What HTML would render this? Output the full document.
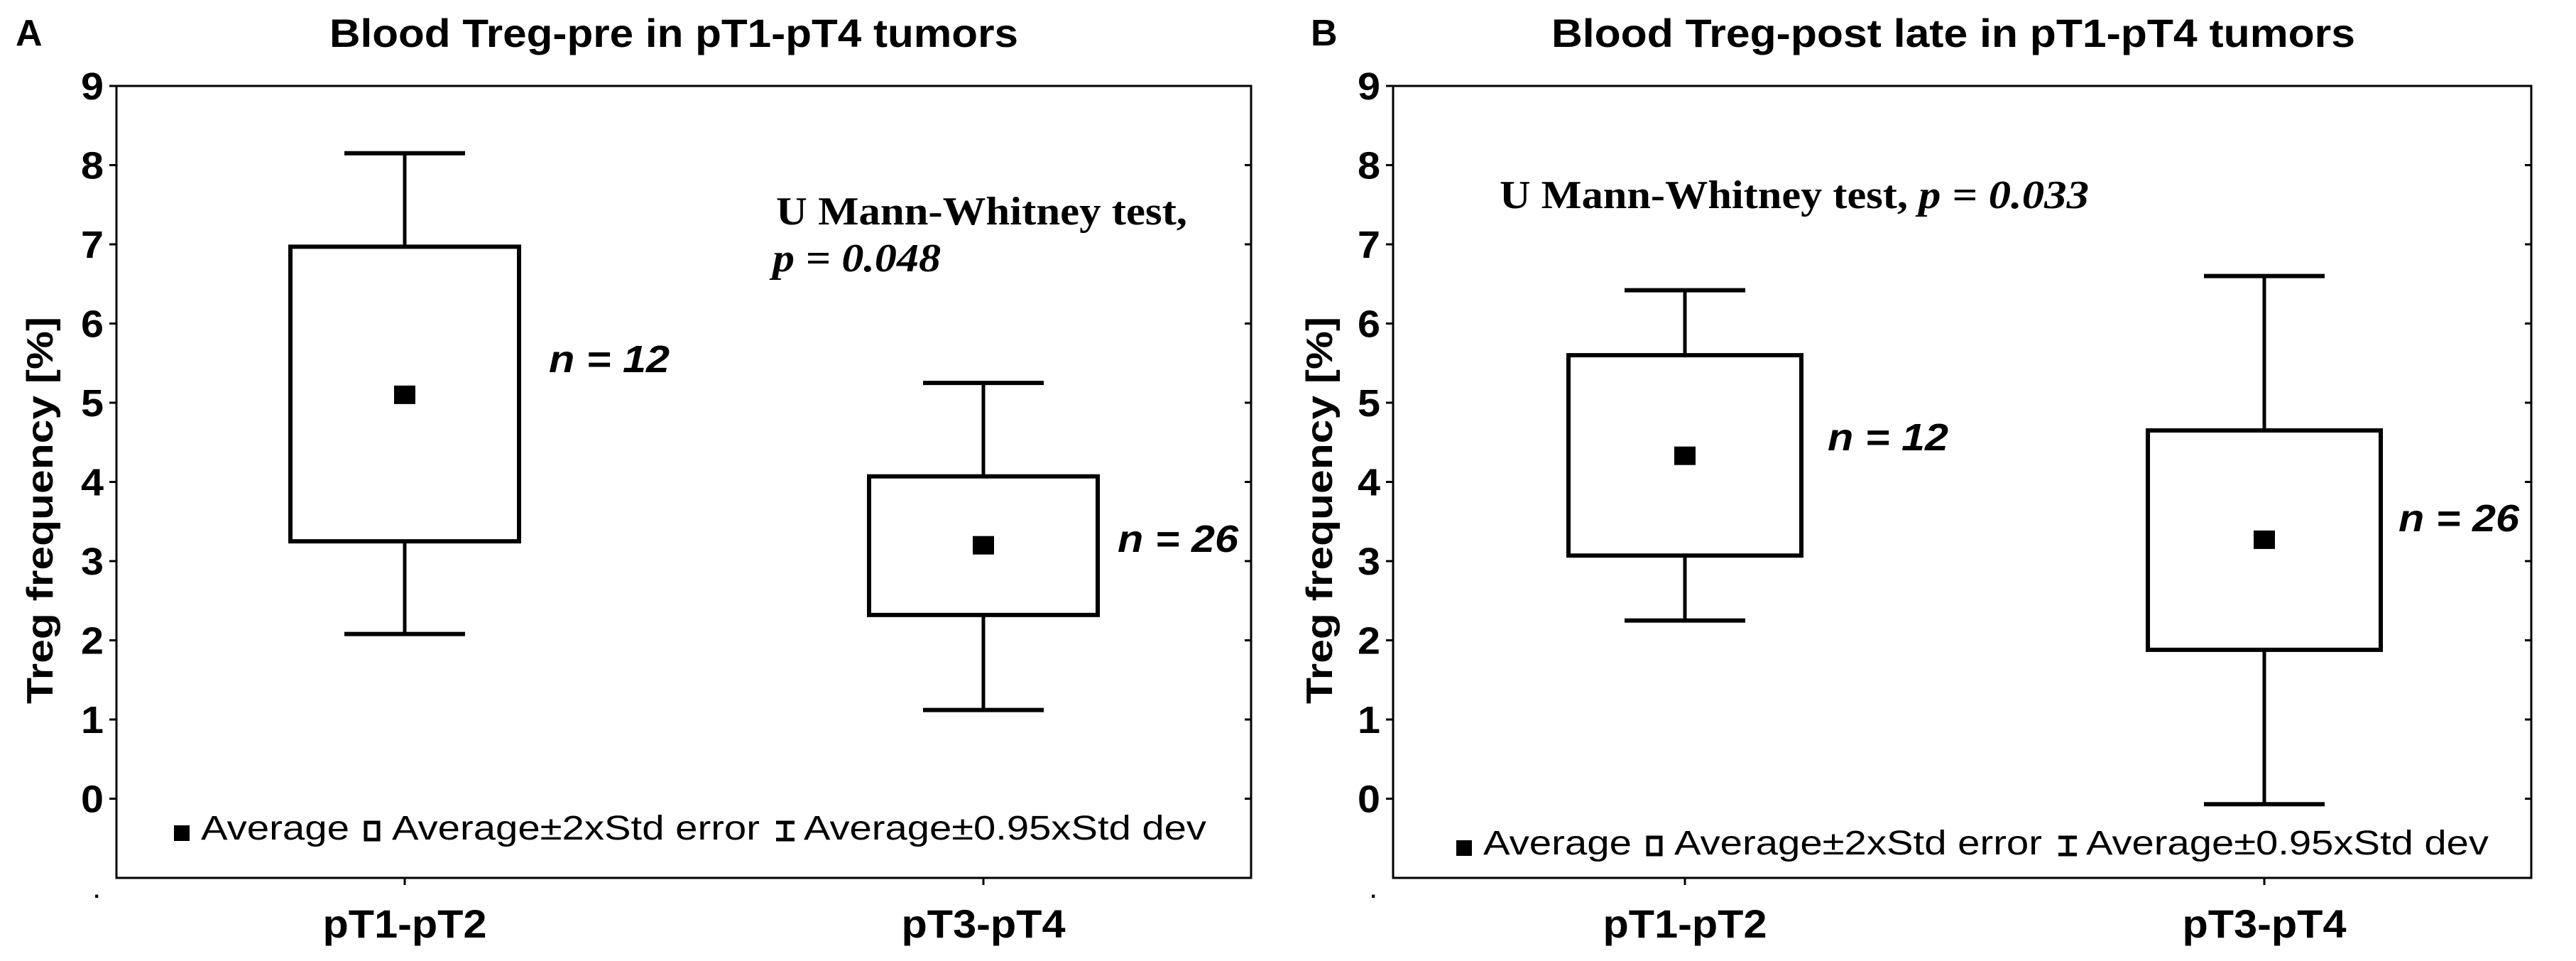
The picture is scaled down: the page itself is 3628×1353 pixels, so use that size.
<!DOCTYPE html>
<html><head><meta charset="utf-8"><style>html,body{margin:0;padding:0;background:#fff}svg{display:block}</style></head>
<body>
<svg id="fig" width="3628" height="1353" viewBox="0 0 3628 1353" xmlns="http://www.w3.org/2000/svg"></svg>
<script>
const categories = ["pT1-pT2", "pT3-pT4"];
const yTicks = [0,1,2,3,4,5,6,7,8,9];
const meanA = [5.1, 3.2];
const boxLowA = [3.25, 2.32];
const boxHighA = [6.97, 4.07];
const whiskLowA = [2.08, 1.12];
const whiskHighA = [8.15, 5.25];
const meanB = [4.33, 3.27];
const boxLowB = [3.07, 1.88];
const boxHighB = [5.6, 4.65];
const whiskLowB = [2.25, -0.07];
const whiskHighB = [6.42, 6.6];
const nLabels = ["n = 12", "n = 26"];

const NS = "http://www.w3.org/2000/svg";
const svg = document.getElementById("fig");
function mk(tag, attrs, parent, text) {
  const e = document.createElementNS(NS, tag);
  for (const k in attrs) e.setAttribute(k, attrs[k]);
  if (text !== undefined) e.textContent = text;
  (parent || svg).appendChild(e);
  return e;
}
const SANS = "'Liberation Sans',sans-serif";
const SERIF = "'Liberation Serif',serif";

function panel(cfg) {
  const g = mk("g", {});
  
  
  const L = cfg.left, R = cfg.right, T = 121, B = 1236;
  const yMin = -1, yMax = 9;
  const y = v => B - (v - yMin) / (yMax - yMin) * (B - T);
  const x = i => cfg.cx[i];
  const lt = mk("text", {x: cfg.letterX, y: 64, "font-family": SANS, "font-weight": "bold", "font-size": 52}, g, cfg.letter);
  
  
  const tt = mk("text", {x: cfg.titleX, y: 66, "text-anchor": "middle", "font-family": SANS, "font-weight": "bold", "font-size": 56, textLength: cfg.titleW, lengthAdjust: "spacingAndGlyphs"}, g, cfg.title);
  
  
  const fr = mk("rect", {x: L, y: T, width: R - L, height: B - T, fill: "none", stroke: "#000", "stroke-width": 3}, g);
  
  
  yTicks.forEach(v => {
    const yy = y(v);
    const tk = mk("line", {x1: L - 10, x2: L, y1: yy, y2: yy, stroke: "#000", "stroke-width": 3}, g);
    
    
    mk("line", {x1: R - 9, x2: R, y1: yy, y2: yy, stroke: "#000", "stroke-width": 3}, g);
    const lb = mk("text", {x: L - 18, y: yy + 19, "text-anchor": "end", "font-family": SANS, "font-weight": "bold", "font-size": 54, textLength: 32, lengthAdjust: "spacingAndGlyphs"}, g, String(v));
    
    
  });
  mk("text", {x: L - 32, y: B + 28, "font-family": SANS, "font-size": 30, "font-weight": "bold"}, g, ".");
  const yt = mk("text", {x: 0, y: 0, transform: `translate(${cfg.yTitleX},${(T + B) / 2 + 40}) rotate(-90)`, "text-anchor": "middle", "font-family": SANS, "font-weight": "bold", "font-size": 52, textLength: 545, lengthAdjust: "spacingAndGlyphs"}, g, "Treg frequency [%]");
  
  
  categories.forEach((c, i) => {
    mk("line", {x1: x(i), x2: x(i), y1: B, y2: B + 10, stroke: "#000", "stroke-width": 3}, g);
    const xl = mk("text", {x: x(i), y: 1320, "text-anchor": "middle", "font-family": SANS, "font-weight": "bold", "font-size": 56, textLength: 231, lengthAdjust: "spacingAndGlyphs"}, g, c);
    
    
    const d = cfg.data;
    const wh = mk("line", {x1: x(i), x2: x(i), y1: y(d.wl[i]), y2: y(d.wh[i]), stroke: "#000", "stroke-width": 5}, g);
    
    
    [d.wl[i], d.wh[i]].forEach(v => {
      const cap = mk("line", {x1: x(i) - 85, x2: x(i) + 85, y1: y(v), y2: y(v), stroke: "#000", "stroke-width": 6}, g);
      
      
    });
    const bx = mk("rect", {x: x(i) - cfg.boxHalf, y: y(d.bh[i]), width: 2 * cfg.boxHalf, height: y(d.bl[i]) - y(d.bh[i]), fill: "#fff", stroke: "#000", "stroke-width": 6}, g);
    
    
    const m = mk("rect", {x: x(i) - 15, y: y(d.m[i]) - 13, width: 30, height: 26, fill: "#000"}, g);
    
    
    const nl = mk("text", {x: cfg.nPos[i][0], y: cfg.nPos[i][1], "font-family": SANS, "font-weight": "bold", "font-style": "italic", "font-size": 54, textLength: 170, lengthAdjust: "spacingAndGlyphs"}, g, nLabels[i]);
    
    
  });
  cfg.annot(g);
  const lx = cfg.legX, ly = cfg.legY;
  mk("rect", {x: lx, y: ly - 20, width: 22, height: 22, fill: "#000"}, g);
  const l1 = mk("text", {x: lx + 38, y: ly, "font-family": SANS, "font-size": 48, textLength: 209, lengthAdjust: "spacingAndGlyphs"}, g, "Average");
  
  
  mk("rect", {x: lx + 270, y: ly - 24, width: 18, height: 24, fill: "#fff", stroke: "#000", "stroke-width": 5}, g);
  const l2 = mk("text", {x: lx + 307, y: ly, "font-family": SANS, "font-size": 48, textLength: 518, lengthAdjust: "spacingAndGlyphs"}, g, "Average±2xStd error");
  
  
  mk("path", {d: `M${lx+848} ${ly-24}h26M${lx+861} ${ly-24}v24M${lx+848} ${ly}h26`, stroke: "#000", "stroke-width": 5, fill: "none"}, g);
  const l3 = mk("text", {x: lx + 887, y: ly, "font-family": SANS, "font-size": 48, textLength: 567, lengthAdjust: "spacingAndGlyphs"}, g, "Average±0.95xStd dev");
  
  
}

panel({
  name: "panel-a", letter: "A", letterX: 22, title: "Blood Treg-pre in pT1-pT4 tumors", titleX: 949, titleW: 970,
  left: 164, right: 1762, cx: [570, 1385], yTitleX: 74, boxHalf: 161,
  data: {m: meanA, bl: boxLowA, bh: boxHighA, wl: whiskLowA, wh: whiskHighA},
  nPos: [[773, 524], [1574, 777]], legX: 245, legY: 1182,
  annot: g => {
    const a = mk("text", {x: 1093, y: 316, "font-family": SERIF, "font-weight": "bold", "font-size": 56, textLength: 579, lengthAdjust: "spacingAndGlyphs"}, g, "U Mann-Whitney test,");
    
    
    const p = mk("text", {x: 1088, y: 382, "font-family": SERIF, "font-weight": "bold", "font-style": "italic", "font-size": 56, textLength: 237, lengthAdjust: "spacingAndGlyphs"}, g, "p = 0.048");
    
    
  }
});
panel({
  name: "panel-b", letter: "B", letterX: 1846, title: "Blood Treg-post late in pT1-pT4 tumors", titleX: 2751, titleW: 1132,
  left: 1962, right: 3565, cx: [2373, 3189], yTitleX: 1876, boxHalf: 164,
  data: {m: meanB, bl: boxLowB, bh: boxHighB, wl: whiskLowB, wh: whiskHighB},
  nPos: [[2574, 634], [3378, 748]], legX: 2051, legY: 1203,
  annot: g => {
    const a = mk("text", {x: 2112, y: 293, "font-family": SERIF, "font-weight": "bold", "font-size": 56}, g);
    
    
    mk("tspan", {textLength: 590, lengthAdjust: "spacingAndGlyphs"}, a, "U Mann-Whitney test, ");
    mk("tspan", {"font-style": "italic", textLength: 240, lengthAdjust: "spacingAndGlyphs"}, a, "p = 0.033");
  }
});
</script>
</body></html>
